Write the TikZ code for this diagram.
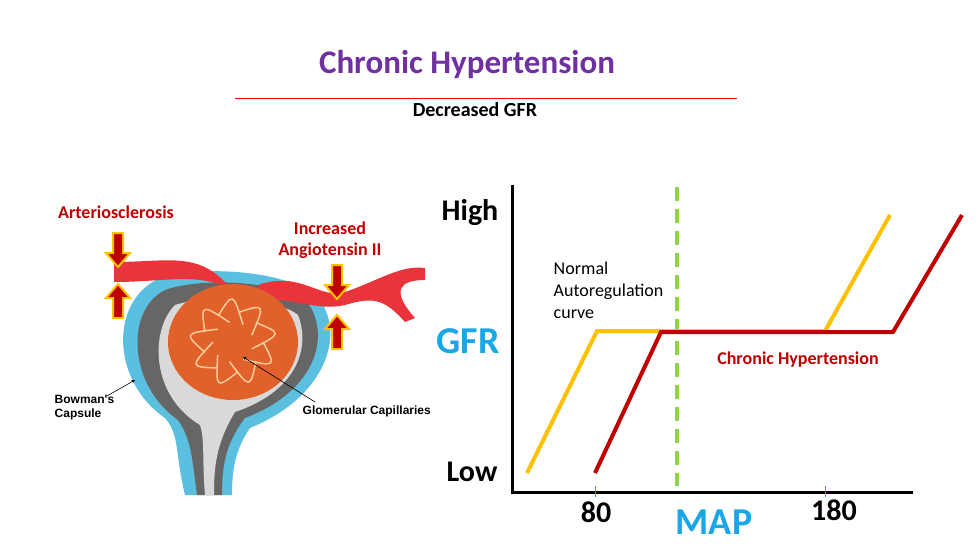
\documentclass[tikz,border=0pt]{standalone}
\usepackage{fontspec}
\setmainfont{Carlito}
\newfontfamily\arialfont{Liberation Sans}
\usetikzlibrary{positioning,calc}
\definecolor{titlepurple}{HTML}{7030A0}
\definecolor{darkred}{HTML}{C00000}
\definecolor{gfrblue}{HTML}{1AA7E8}
\definecolor{normorange}{HTML}{FFC000}
\definecolor{dashgreen}{HTML}{92D050}
\definecolor{capblue}{HTML}{5BC0E0}
\definecolor{glomorange}{HTML}{E0622A}
\definecolor{vesselred}{HTML}{E8343A}
\tikzset{
  blockarrow/.pic={\filldraw[fill=darkred,draw=normorange,line width=2pt,line join=miter]
    (-5,0) -- (-5,20) -- (-12,20) -- (0,34) -- (12,20) -- (5,20) -- (5,0) -- cycle;},
  bigword/.style={font=\bfseries\fontsize{30}{32}\selectfont},
  blueword/.style={font=\bfseries\fontsize{38}{40}\selectfont,text=gfrblue},
  redlabel/.style={font=\bfseries\fontsize{18}{21}\selectfont,text=darkred,align=center},
  smalllabel/.style={font=\arialfont\bfseries\fontsize{12}{14}\selectfont,align=left},
}
\begin{document}
\begin{tikzpicture}[x=1pt,y=-1pt,thick]
  \useasboundingbox[fill=white] (0,0) rectangle (980,552);
  % heading
  \node[font=\bfseries\fontsize{33}{36}\selectfont,text=titlepurple] (title) at (467,65) {Chronic Hypertension};
  \draw[red,line width=1pt] (235,98) -- (737,98);
  \node[font=\bfseries\fontsize{20}{23}\selectfont] (sub) at (475,110) {Decreased GFR};

  % kidney sketch
  \fill[capblue] (185,495) .. controls (175,455) and (180,435) .. (165,418)
     .. controls (110,380) and (110,300) .. (160,278)
     .. controls (200,265) and (290,270) .. (318,298)
     .. controls (345,330) and (330,395) .. (250,428)
     .. controls (235,450) and (232,470) .. (232,495) -- cycle;
  \fill[black!60] (197,495) .. controls (192,460) and (192,440) .. (178,420)
     .. controls (128,385) and (125,310) .. (165,290)
     .. controls (205,276) and (285,282) .. (308,303)
     .. controls (330,335) and (318,390) .. (245,418)
     .. controls (224,445) and (222,470) .. (222,495) -- cycle;
  \fill[gray!30] (205,495) .. controls (202,460) and (205,440) .. (200,425)
     .. controls (150,395) and (150,330) .. (175,305)
     .. controls (215,292) and (280,300) .. (298,315)
     .. controls (310,345) and (300,390) .. (235,412)
     .. controls (215,445) and (214,470) .. (214,495) -- cycle;
  \fill[vesselred] (114,262) .. controls (170,262) and (200,250) .. (232,290)
     -- (240,295) .. controls (205,270) and (170,282) .. (114,282) -- cycle;
  \fill[vesselred] (258,285) .. controls (300,270) and (320,300) .. (345,292)
     .. controls (380,280) and (400,265) .. (425,268) -- (425,280)
     .. controls (400,280) and (390,290) .. (415,318) -- (405,322)
     .. controls (385,300) and (375,296) .. (345,305)
     .. controls (315,312) and (290,295) .. (262,302) -- cycle;
  \fill[glomorange] (233,342) ellipse (65 and 58);
  \foreach \ang in {0,40,...,320}
    \draw[orange!40!white,line width=1.5pt] ($(233,342)+(\ang:30)$) .. controls ($(233,342)+(\ang+30:50)$) .. ($(233,342)+(\ang+60:20)$);
  \pic at (118,233) {blockarrow};
  \pic[yscale=-1] at (118,318) {blockarrow};
  \pic at (337,265) {blockarrow};
  \pic[yscale=-1] at (337,349) {blockarrow};

  % illustration labels
  \node[redlabel] (arterio) at (116,212) {Arteriosclerosis};
  \node[redlabel] (angio) at (330,240) {Increased\\Angiotensin II};
  \node[smalllabel,anchor=west] (bowman) at (51,408) {Bowman's\\Capsule};
  \node[smalllabel,anchor=west] (glom) at (299,411) {Glomerular Capillaries};
  \coordinate (capwall) at (135,380);
  \coordinate (glomcore) at (243,357);
  \draw[->,>=stealth,line width=0.6pt] (107,396) -- (capwall);
  \draw[->,>=stealth,line width=0.6pt] (315,402) -- (glomcore);

  % graph
  \coordinate (origin) at (512,492);
  \draw[line width=3pt] (512,185) -- (origin) -- (913,492);
  \node[bigword] (high) at (470,213) {High};
  \node[blueword] (gfr) at (468,341) {GFR};
  \node[bigword] (low) at (472,472) {Low};
  \node[bigword] (eighty) at (596,512) {80};
  \node[bigword] (oneeighty) at (834,510) {180};
  \node[blueword] (map) at (714,522) {MAP};
  \draw[gfrblue,line width=1pt] (595,486) -- (595,497) (825,486) -- (825,497);
  \draw[dashgreen,line width=4pt,dash pattern=on 14pt off 8pt] (677,187) -- (677,486);
  \draw[normorange,line width=4pt] (527,473) -- (597,331) -- (825,331) -- (890,215);
  \draw[darkred,line width=4pt] (595,473) -- (661,332) -- (893,332) -- (962,215);
  \node[font=\fontsize{18}{22}\selectfont,align=left,anchor=north west] (normal) at (550,258) {Normal\\Autoregulation\\curve};
  \node[font=\bfseries\fontsize{18}{21}\selectfont,text=darkred] (chronic) at (798,360) {Chronic Hypertension};
\end{tikzpicture}
\end{document}
